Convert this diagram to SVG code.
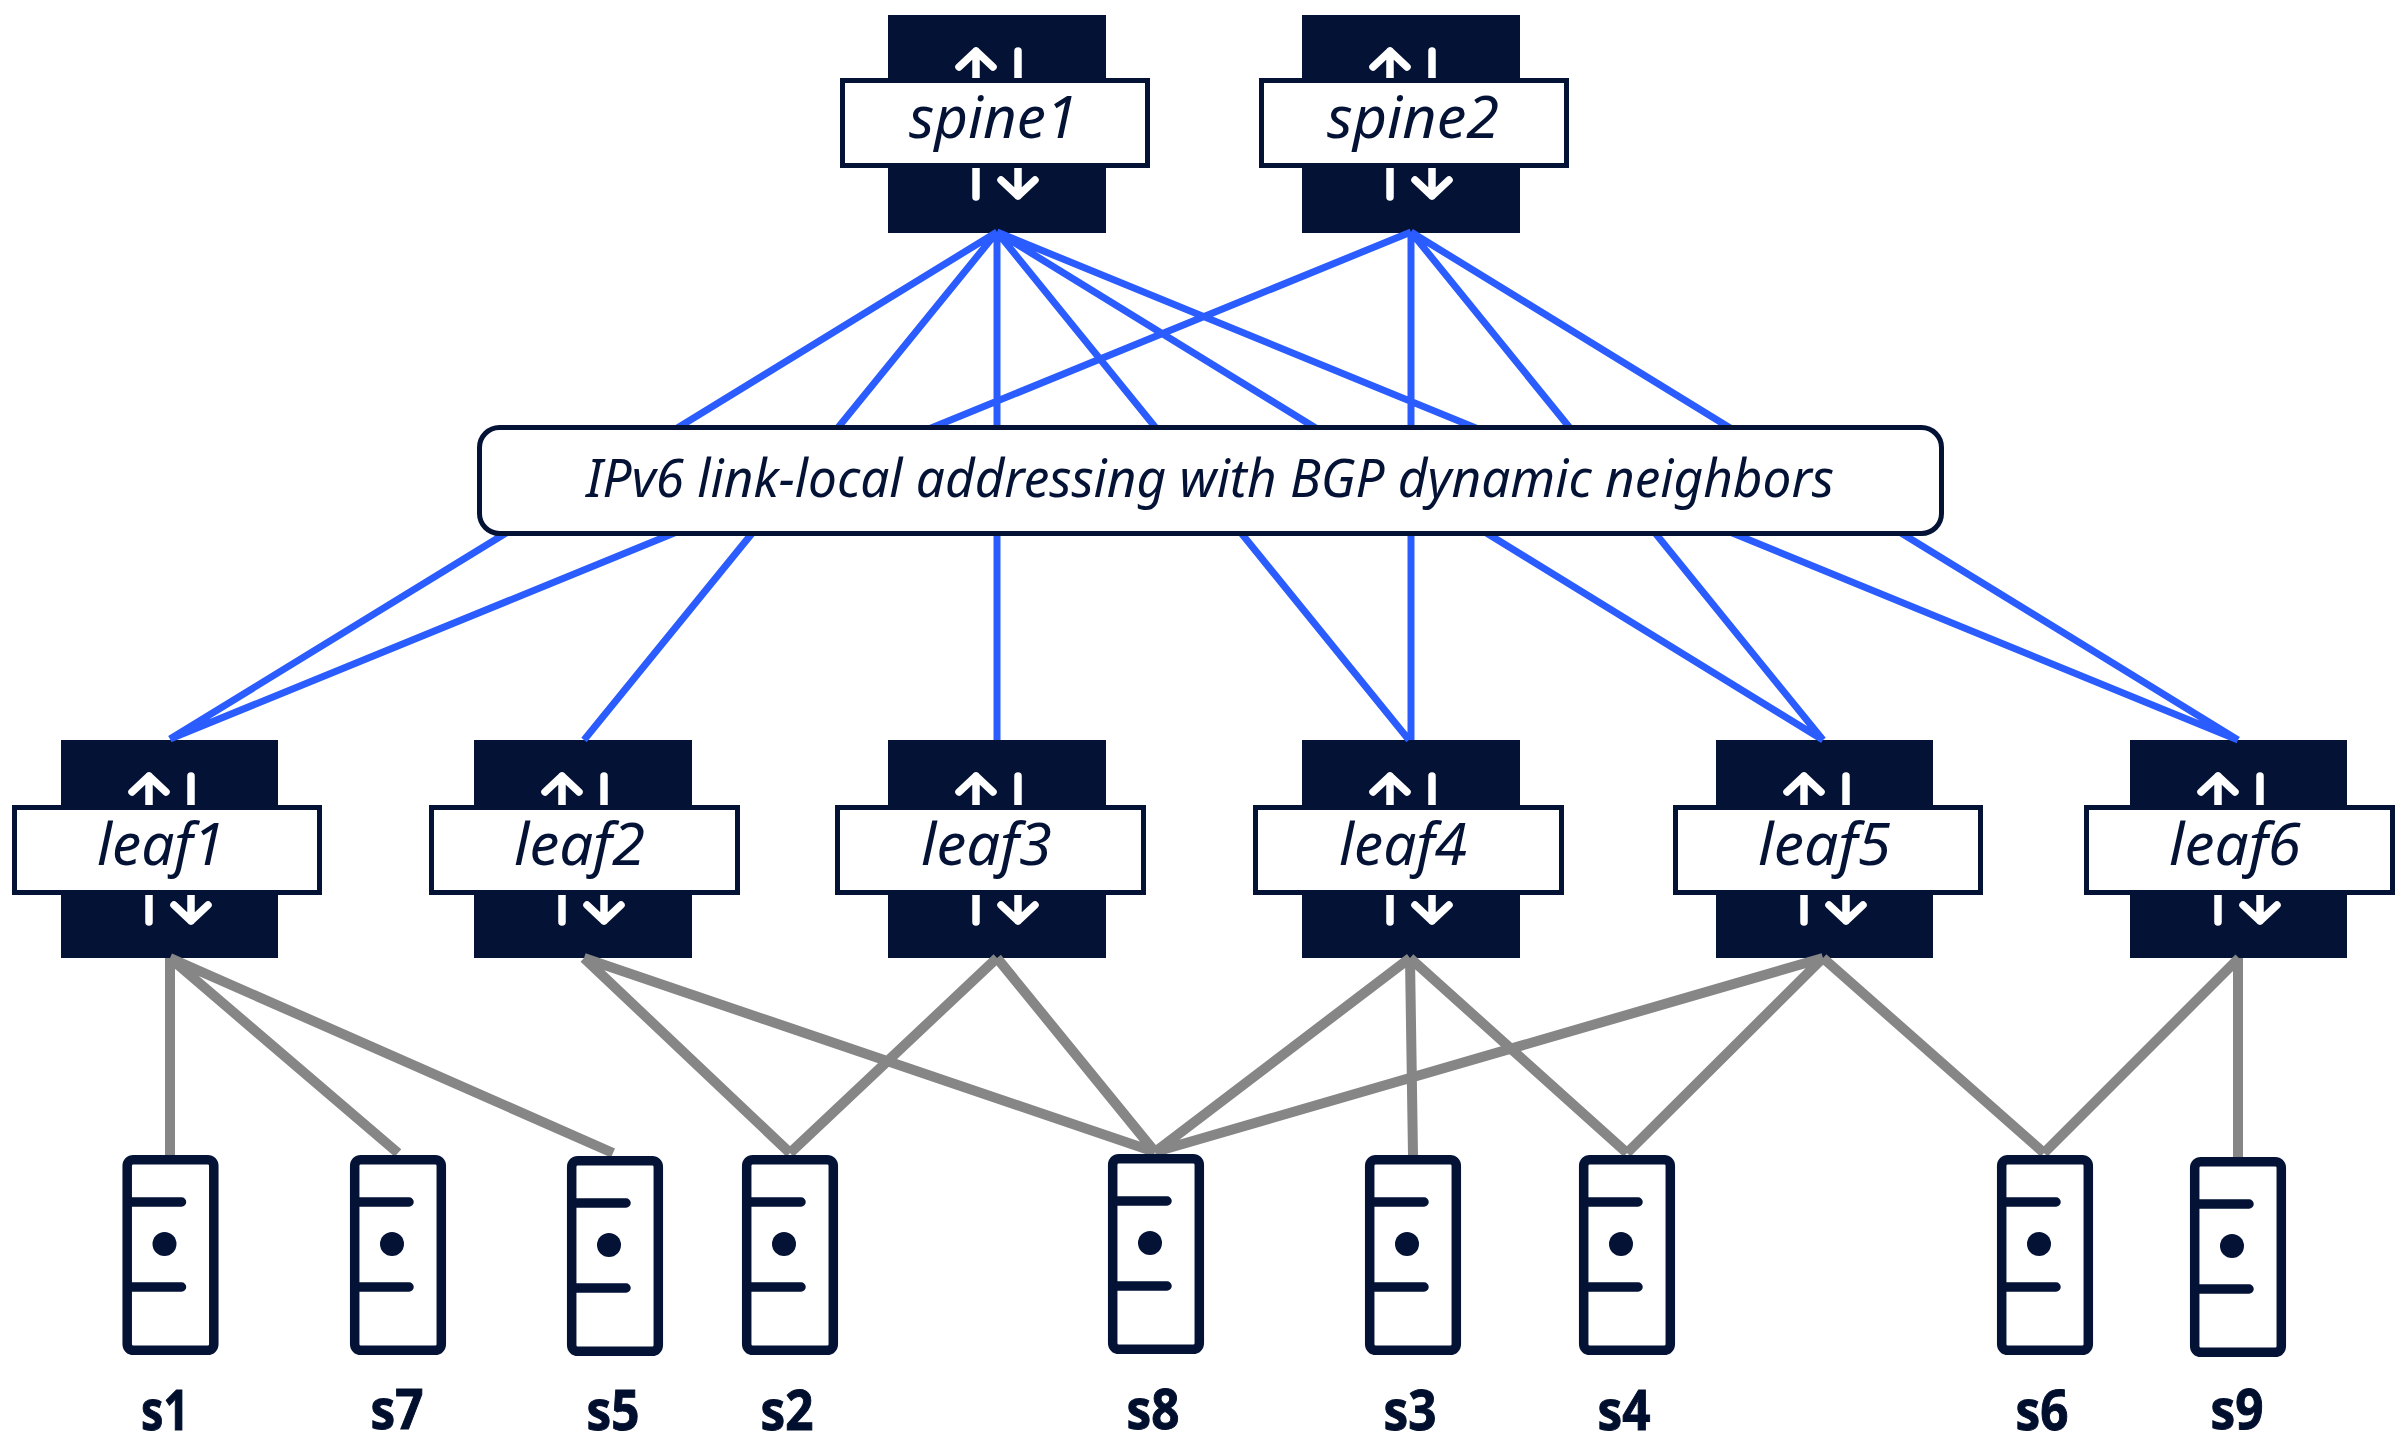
<svg xmlns="http://www.w3.org/2000/svg" width="2404" height="1448" viewBox="0 0 2404 1448">
<style>
.dark{fill:#031235}
.box{fill:#fff;stroke:#031235;stroke-width:5}
.arr{fill:none;stroke:#fff;stroke-width:7.5;stroke-linecap:round;stroke-linejoin:round}
.lbl{font-family:"Noto Sans","Open Sans",sans-serif;font-style:italic;font-size:59px;fill:#031235}
.blue{stroke:#2a5cff;stroke-width:7;fill:none}
.gray{stroke:#868686;stroke-width:10;fill:none}
.srv{fill:#fff;stroke:#031235;stroke-width:9.5}
.bar{fill:none;stroke:#031235;stroke-width:9.5;stroke-linecap:round}
.name{font-family:"Noto Sans","Open Sans",sans-serif;font-weight:700;font-size:55px;fill:#000f2e;stroke:#000f2e;stroke-width:1;text-anchor:middle}
</style>
<defs>
<path id="arrows" class="arr" d="M88,80V36M71,52L88,36L105,52M130,36V80M88,140V182M130,140V181M113,165L130,181L147,165"/>
<g id="server">
<rect class="srv" x="4.7" y="4.7" width="86.6" height="190.6" rx="6"/>
<path class="bar" d="M9,47H59M9,132H59"/>
<circle class="dark" cx="42" cy="89" r="12"/>
</g>
</defs>
<g id="spine1"><rect class="dark" x="888" y="15" width="218" height="218"/><use href="#arrows" x="888" y="15"/><rect class="box" x="842.5" y="80.5" width="305" height="85"/><text class="lbl" x="909" y="138" textLength="169" lengthAdjust="spacingAndGlyphs">spine1</text></g>
<g id="spine2"><rect class="dark" x="1302" y="15" width="218" height="218"/><use href="#arrows" x="1302" y="15"/><rect class="box" x="1261.5" y="80.5" width="305" height="85"/><text class="lbl" x="1327" y="138" textLength="172" lengthAdjust="spacingAndGlyphs">spine2</text></g>
<g id="leaf1"><rect class="dark" x="61" y="740" width="217" height="218"/><use href="#arrows" x="61" y="740"/><rect class="box" x="14.5" y="807.5" width="305" height="85"/><text class="lbl" x="97" y="865" textLength="128" lengthAdjust="spacingAndGlyphs">leaf1</text></g>
<g id="leaf2"><rect class="dark" x="474" y="740" width="218" height="218"/><use href="#arrows" x="474" y="740"/><rect class="box" x="431.5" y="807.5" width="306" height="85"/><text class="lbl" x="514" y="865" textLength="131" lengthAdjust="spacingAndGlyphs">leaf2</text></g>
<g id="leaf3"><rect class="dark" x="888" y="740" width="218" height="218"/><use href="#arrows" x="888" y="740"/><rect class="box" x="837.5" y="807.5" width="306" height="85"/><text class="lbl" x="921" y="865" textLength="131" lengthAdjust="spacingAndGlyphs">leaf3</text></g>
<g id="leaf4"><rect class="dark" x="1302" y="740" width="218" height="218"/><use href="#arrows" x="1302" y="740"/><rect class="box" x="1255.5" y="807.5" width="306" height="85"/><text class="lbl" x="1339" y="865" textLength="128" lengthAdjust="spacingAndGlyphs">leaf4</text></g>
<g id="leaf5"><rect class="dark" x="1716" y="740" width="217" height="218"/><use href="#arrows" x="1716" y="740"/><rect class="box" x="1675.5" y="807.5" width="305" height="85"/><text class="lbl" x="1758" y="865" textLength="133" lengthAdjust="spacingAndGlyphs">leaf5</text></g>
<g id="leaf6"><rect class="dark" x="2130" y="740" width="217" height="218"/><use href="#arrows" x="2130" y="740"/><rect class="box" x="2086.5" y="807.5" width="306" height="85"/><text class="lbl" x="2169" y="865" textLength="132" lengthAdjust="spacingAndGlyphs">leaf6</text></g>
<g id="connectors">
<path class="blue" d="M997,232L170,739M997,232L584,740M997,232V740M997,232L1409,740M997,232L1823,740M997,232L2238,740M1411,232L170,739M1411,232V740M1411,232L1823,740M1411,232L2238,740"/>
<path class="gray" d="M170,958V1155M170,958L398,1153M170,958L613,1153M584,958L790,1153M584,958L1155,1152M997,958L790,1153M997,958L1155,1152M1410,958L1155,1152M1410,958L1413,1155M1410,958L1627,1153M1823,958L1155,1152M1823,958L1627,1153M1823,958L2044,1153M2239,958L2044,1153M2238,958V1157"/>
</g>
<g id="fabric"><rect x="479.5" y="427.5" width="1462" height="106" rx="20" fill="#fff" stroke="#031235" stroke-width="5"/><text x="586" y="497" font-family="Noto Sans, Open Sans, sans-serif" font-style="italic" font-size="52" fill="#031235" textLength="1248" lengthAdjust="spacingAndGlyphs">IPv6 link-local addressing with BGP dynamic neighbors</text></g>
<g id="s1"><use href="#server" x="122.5" y="1155"/><text class="name" x="165" y="1430" textLength="48" lengthAdjust="spacingAndGlyphs">s1</text></g>
<g id="s7"><use href="#server" x="350" y="1155"/><text class="name" x="397" y="1429" textLength="53" lengthAdjust="spacingAndGlyphs">s7</text></g>
<g id="s5"><use href="#server" x="567" y="1156"/><text class="name" x="613" y="1430" textLength="53" lengthAdjust="spacingAndGlyphs">s5</text></g>
<g id="s2"><use href="#server" x="742" y="1155"/><text class="name" x="787" y="1430" textLength="53" lengthAdjust="spacingAndGlyphs">s2</text></g>
<g id="s8"><use href="#server" x="1108" y="1154"/><text class="name" x="1153" y="1429" textLength="53" lengthAdjust="spacingAndGlyphs">s8</text></g>
<g id="s3"><use href="#server" x="1365" y="1155"/><text class="name" x="1410" y="1430" textLength="53" lengthAdjust="spacingAndGlyphs">s3</text></g>
<g id="s4"><use href="#server" x="1579" y="1155"/><text class="name" x="1624" y="1430" textLength="53" lengthAdjust="spacingAndGlyphs">s4</text></g>
<g id="s6"><use href="#server" x="1997" y="1155"/><text class="name" x="2042" y="1430" textLength="53" lengthAdjust="spacingAndGlyphs">s6</text></g>
<g id="s9"><use href="#server" x="2190" y="1157"/><text class="name" x="2237" y="1429" textLength="53" lengthAdjust="spacingAndGlyphs">s9</text></g>
</svg>
